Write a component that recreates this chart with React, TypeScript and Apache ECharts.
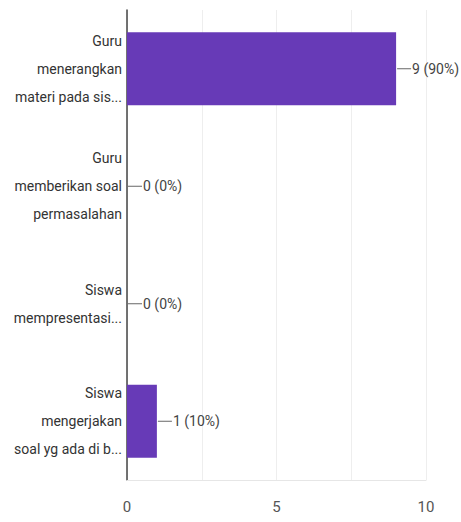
import React, { useEffect, useRef } from "react";
import * as echarts from "echarts";

const categories: string[] = [
  "Guru\nmenerangkan\nmateri pada sis...",
  "Guru\nmemberikan soal\npermasalahan",
  "Siswa\nmempresentasi...",
  "Siswa\nmengerjakan\nsoal yg ada di b...",
];
const counts: number[] = [9, 0, 0, 1];
const percents: string[] = ["90%", "0%", "0%", "10%"];
const xTickLabels: number[] = [0, 5, 10];

const FONT = "Roboto, sans-serif";

export default function App() {
  const ref = useRef<HTMLDivElement>(null);
  useEffect(() => {
    if (!ref.current) return;
    const chart = echarts.init(ref.current, undefined, { renderer: "svg" });
    chart.setOption({
      animation: false,
      grid: { left: 127, top: 10, right: 35, bottom: 42, containLabel: false },
      xAxis: {
        type: "value",
        min: 0,
        max: 10,
        interval: 2.5,
        axisLine: { show: true, lineStyle: { color: "#e6e6e6", width: 1 } },
        axisTick: { show: false },
        splitLine: { show: true, lineStyle: { color: "#eeeeee", width: 1 } },
        axisLabel: {
          margin: 19,
          fontFamily: FONT,
          fontSize: 15,
          color: "#555",
          formatter: (v: number) => (xTickLabels.includes(v) ? String(v) : ""),
        },
      },
      yAxis: {
        type: "category",
        inverse: true,
        data: categories,
        axisLine: { show: true, lineStyle: { color: "#444", width: 1.5 } },
        axisTick: { show: false },
        axisLabel: {
          margin: 5,
          fontFamily: FONT,
          fontSize: 14,
          lineHeight: 28,
          color: "#333",
          align: "right",
        },
      },
      series: [
        {
          type: "bar",
          data: counts,
          barWidth: "62%",
          itemStyle: { color: "#673ab7" },
          label: {
            show: true,
            position: "right",
            distance: 1,
            formatter: (p: any) => `{l|}{t|${counts[p.dataIndex]} (${percents[p.dataIndex]})}`,
            rich: {
              l: { width: 14, height: 1, backgroundColor: "#666" },
              t: { fontFamily: FONT, fontSize: 14, color: "#444", padding: [0, 0, 0, 1] },
            },
          },
        },
      ],
    });
    return () => chart.dispose();
  }, []);
  return <div ref={ref} style={{ width: 461, height: 522, position: "absolute", left: 0, top: 0 }} />;
}
